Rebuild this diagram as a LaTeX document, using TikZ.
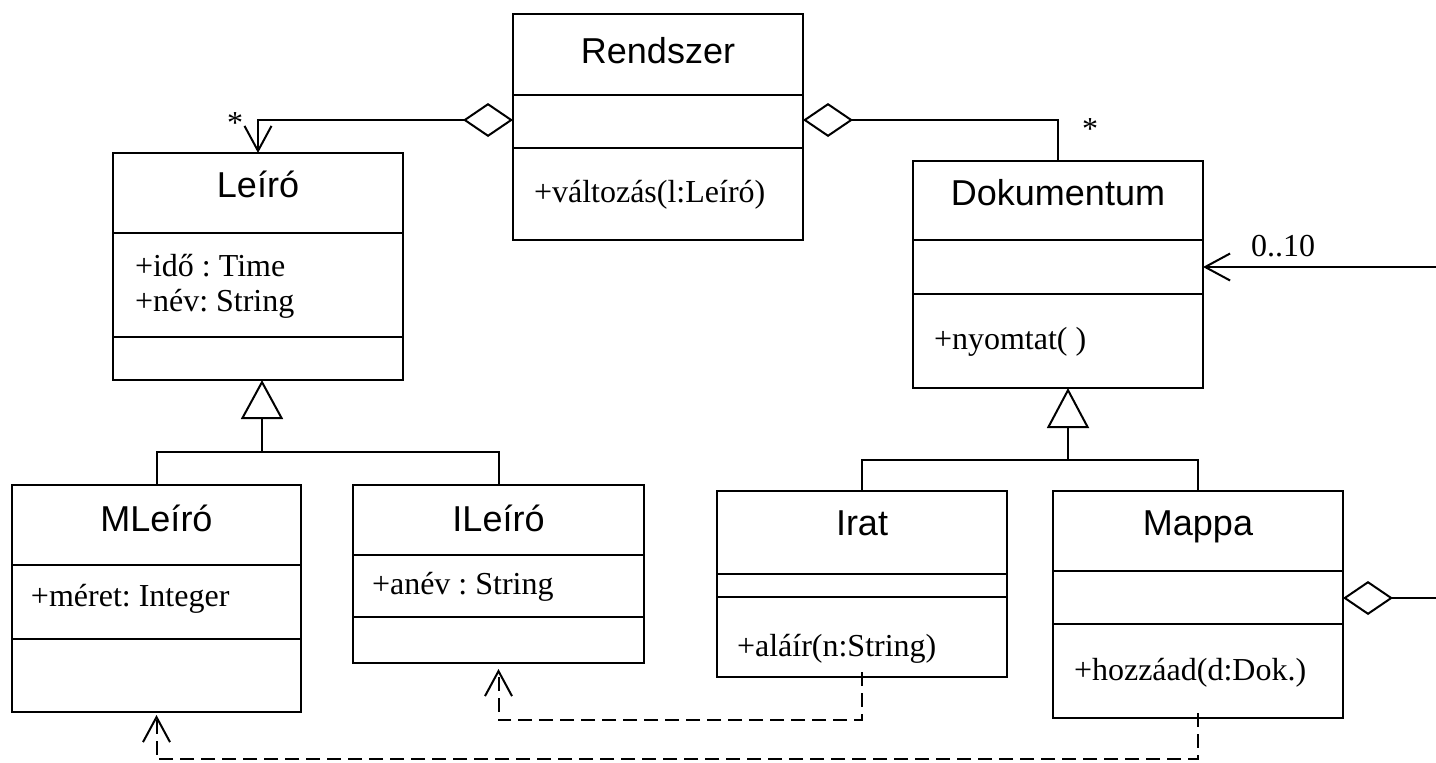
\documentclass[tikz,border=0pt]{standalone}
\usepackage{fontspec}
\setmainfont{Liberation Serif}
\setsansfont{Liberation Sans}
\usetikzlibrary{arrows.meta}
\frenchspacing

\begin{document}
\begin{tikzpicture}[x=0.5pt, y=-0.5pt, line width=1pt,
    osztaly/.style={draw, anchor=north west, inner sep=0pt, outer sep=0pt},
    cim/.style={font=\sffamily\fontsize{18}{21}\selectfont, anchor=base, inner sep=0pt},
    tag/.style={font=\fontsize{16}{19}\selectfont, anchor=base west, inner sep=0pt},
    multi/.style={font=\fontsize{16}{19}\selectfont, anchor=base, inner sep=0pt},
    fugg/.style={dash pattern=on 7pt off 3.5pt}]
    \useasboundingbox (0,0) rectangle (1436,762);

    % Osztalyok: doboz es ket valaszto vonal
    \foreach \nev/\xa/\ya/\xb/\yb/\da/\db in {
        rendszer/513/14/803/240/95/148,
        leiro/113/153/403/380/233/337,
        dokumentum/913/161/1203/388/240/294,
        mleiro/12/485/301/712/565/639,
        ileiro/353/485/644/663/555/617,
        irat/717/491/1007/677/574/597,
        mappa/1053/491/1343/718/571/624} {
        \node[osztaly, minimum width={(\xb-\xa)*0.5pt}, minimum height={(\yb-\ya)*0.5pt}]
            (\nev) at (\xa,\ya) {};
        \draw (\xa,\da) -- (\xb,\da);
        \draw (\xa,\db) -- (\xb,\db);
    }

    % Osztalynevek
    \foreach \nev/\szoveg/\y in {rendszer/Rendszer/63, leiro/Leíró/197,
        dokumentum/Dokumentum/205, mleiro/MLeíró/531, ileiro/ILeíró/531,
        irat/Irat/535, mappa/Mappa/535} {
        \node[cim] (\nev-cim) at (\nev.north |- 0,\y) {\szoveg};
    }

    % Attributumok es muveletek
    \node[tag] (rendszer-m) at (533,202) {+változás(l:Leíró)};
    \node[tag] (leiro-a1) at (134,276) {+idő : Time};
    \node[tag] (leiro-a2) at (134,311) {+név: String};
    \node[tag] (dokumentum-m) at (933,349) {+nyomtat( )};
    \node[tag] (mleiro-a) at (30,606) {+méret: Integer};
    \node[tag] (ileiro-a) at (371,594) {+anév : String};
    \node[tag] (irat-m) at (736,656) {+aláír(n:String)};
    \node[tag] (mappa-m) at (1073,680) {+hozzáad(d:Dok.)};

    % Aggregaciok a Rendszerbol
    \draw[{Straight Barb[length=12.5pt,width=13.5pt]}-{Diamond[open,length=25pt,width=17pt]}]
        (leiro.north) |- ([yshift=-53pt]rendszer.north west);
    \draw[-{Diamond[open,length=25pt,width=17pt]}]
        (dokumentum.north) |- ([yshift=-53pt]rendszer.north east);
    \node[multi] (csillag1) at (235,133) {*};
    \node[multi] (csillag2) at (1090,139) {*};

    % Mappa - Dokumentum kapcsolat (jobb szelen kifut)
    \coordinate (jobb1) at (1436,267);
    \coordinate (jobb2) at (1436,598);
    \draw[-{Straight Barb[length=12.5pt,width=13.5pt]}] (jobb1) -- (dokumentum.east |- jobb1);
    \node[multi] (szam) at (1283,256) {0..10};
    \draw[-{Diamond[open,length=25pt,width=17pt]}] (jobb2) -- (mappa.east |- jobb2);

    % Oroklodes
    \coordinate (l-elag) at (262,452);
    \coordinate (d-elag) at (1068,460);
    \draw[-{Triangle[open,length=19.5pt,width=21pt]}] (l-elag) -- (leiro.south -| l-elag);
    \draw (mleiro.north) |- (l-elag) -| (ileiro.north);
    \draw[-{Triangle[open,length=20pt,width=21pt]}] (d-elag) -- (dokumentum.south -| d-elag);
    \draw (irat.north) |- (d-elag) -| (mappa.north);

    % Fuggosegek (szaggatott)
    \draw[fugg, -{Straight Barb[length=12.5pt,width=13.5pt]}]
        ([yshift=2.5pt]irat.south) -- ++(0,48) -| ([yshift=-3pt]ileiro.south);
    \draw[fugg, -{Straight Barb[length=12.5pt,width=13.5pt]}]
        ([yshift=2.5pt]mappa.south) -- ++(0,46) -| ([yshift=-1.5pt]mleiro.south);
\end{tikzpicture}
\end{document}
